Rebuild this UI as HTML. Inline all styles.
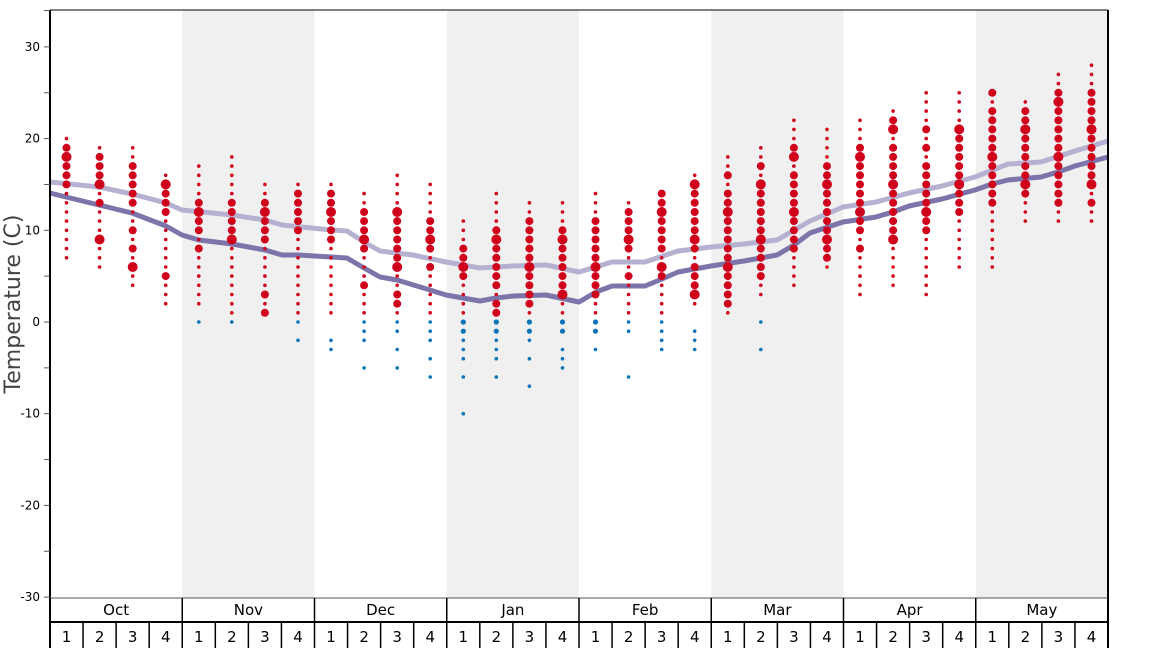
<!DOCTYPE html>
<html><head><meta charset="utf-8"><style>
body{margin:0;background:#fff;}
svg{display:block;font-family:"DejaVu Sans","Liberation Sans",sans-serif;}
</style></head><body>
<svg id="s" width="1168" height="648" viewBox="0 0 1168 648" xmlns="http://www.w3.org/2000/svg"></svg>
<script>
var s=document.getElementById('s'),h='';
var X0=50,X1=1108,MW=(X1-X0)/8,WW=MW/4;
function Y(t){return 322-t*9.17;}
for(var m=1;m<8;m+=2)h+='<rect x="'+(X0+m*MW)+'" y="10" width="'+MW+'" height="588" fill="#f0f0f0"/>';
function line(pts,c){var d='';for(var i=0;i<pts.length;i+=2)d+=(i?'L':'M')+pts[i]+' '+pts[i+1];return '<path d="'+d+'" fill="none" stroke="'+c+'" stroke-width="5" stroke-linejoin="round"/>';}
h+=line([50,182,99,187,132,194,166,203,182,210,232,215,265,220,282,225,331,230,347,231,364,242,380,251,413,255,446,262,480,268,513,266,546,265,579,272,612,262,645,262,678,251,711,247,744,244,777,240,810,221,843,207,876,202,909,193,942,186,975,177,1008,164,1041,162,1075,151,1108,141],'#b6b1d0');
h+=line([50,193,66,197,99,205,132,213,166,226,182,235,199,240,232,244,265,250,282,255,298,255,331,257,347,258,364,268,380,277,397,280,430,290,446,295,463,298,480,301,496,298,513,296,546,295,579,302,596,292,612,286,645,286,662,279,678,272,711,266,744,261,777,255,794,245,810,233,843,222,876,217,893,212,909,206,942,199,975,190,992,184,1008,180,1041,177,1058,172,1075,166,1108,157],'#7d74aa');
var W=[[20,7,[19,18,17,16,15],[]],[19,6,[18,17,16,15,13,9],[]],[19,4,[17,16,15,14,13,10,8,6],[]],[16,2,[15,14,13,12,5],[]],
[17,2,[13,12,11,10,8],[0]],[18,1,[13,12,11,10,9],[0]],[15,1,[13,12,11,10,9,3,1],[]],[15,1,[14,13,12,11,10],[0,-2]],
[15,1,[14,13,12,11,10,9],[-2,-3]],[14,1,[12,11,10,9,8,4],[0,-1,-2,-5]],[16,1,[12,11,10,9,8,7,6,3,2],[0,-1,-3,-5]],[15,1,[11,10,9,8,6],[0,-1,-2,-4,-6]],
[11,1,[8,7,6,5],[0,-1,-2,-3,-4,-6,-10]],[14,1,[10,9,8,7,6,5,4,2,1],[0,-1,-2,-3,-4,-6]],[13,1,[11,10,9,8,7,6,5,4,3,2],[0,-1,-2,-4,-7]],[13,1,[10,9,8,7,6,5,4,3],[0,-1,-3,-4,-5]],
[14,1,[11,10,9,8,7,6,5,4,3],[0,-1,-3]],[13,1,[12,11,10,9,8,5],[0,-1,-6]],[14,1,[14,13,12,11,10,9,8,6,5],[0,-1,-2,-3]],[16,2,[15,14,13,12,11,10,9,8,6,5,4,3],[-1,-2,-3]],
[18,1,[16,14,13,12,11,10,9,8,7,6,5,4,3,2],[]],[19,3,[17,15,14,13,12,11,10,9,8,7,6,5],[0,-3]],[22,4,[19,18,16,15,14,13,12,11,10,9,8],[]],[21,6,[17,16,15,14,13,12,11,10,9,8,7],[]],
[22,3,[19,18,17,16,15,14,13,12,11,10,8],[]],[23,4,[22,21,19,18,17,16,15,14,13,12,11,10,9],[]],[25,3,[21,19,17,16,15,14,13,12,11,10],[]],[25,6,[21,20,19,18,17,16,15,14,13,12],[]],
[25,6,[25,23,22,21,20,19,18,17,16,15,14,13],[]],[24,11,[23,22,21,20,19,18,17,16,15,14],[]],[27,11,[25,24,23,22,21,20,19,18,17,16,15,14,13],[]],[28,11,[25,24,23,22,21,20,19,18,17,16,15,13],[]]];
for(var i=0;i<32;i++){var w=W[i],cx=(X0+WW*(i+.5)).toFixed(1);
 for(var t=w[1];t<=w[0];t++){var big=w[2].indexOf(t)>=0;var r=big?(((t*7+i*3)%6==0)?5:4):1.8;
  h+='<circle cx="'+cx+'" cy="'+Y(t).toFixed(1)+'" r="'+r+'" fill="#d0021b"/>';}
 w[3].forEach(function(t,k){h+='<circle cx="'+cx+'" cy="'+Y(t).toFixed(1)+'" r="'+(k<2&&i>11&&i<17?2.6:1.8)+'" fill="#0a74b8"/>';});
}
h+='<line x1="50" y1="10" x2="50" y2="648" stroke="#000" stroke-width="2"/>';
h+='<line x1="1108" y1="10" x2="1108" y2="648" stroke="#000" stroke-width="2"/>';
h+='<line x1="50" y1="10" x2="1108" y2="10" stroke="#000" stroke-width="1"/>';
for(var t=-30;t<=30;t+=5){var y=Y(t);h+='<line x1="44" y1="'+y+'" x2="50" y2="'+y+'" stroke="#555" stroke-width="1"/>';
 if(t%10==0)h+='<text x="40" y="'+(y+4)+'" font-size="12" text-anchor="end" fill="#000">'+t+'</text>';}
h+='<line x1="44" y1="10.5" x2="50" y2="10.5" stroke="#555" stroke-width="1"/>';
h+='<text transform="translate(20,304) rotate(-90)" font-size="22" text-anchor="middle" fill="#444">Temperature (C)</text>';
h+='<line x1="50" y1="598" x2="1108" y2="598" stroke="#555" stroke-width="1"/>';
h+='<line x1="50" y1="622" x2="1108" y2="622" stroke="#000" stroke-width="2"/>';
var ms=['Oct','Nov','Dec','Jan','Feb','Mar','Apr','May'];
for(var m=0;m<8;m++){var x=X0+m*MW;h+='<line x1="'+x+'" y1="598" x2="'+x+'" y2="648" stroke="#000" stroke-width="1.5"/>';
 h+='<text x="'+(x+MW/2)+'" y="615" font-size="15" text-anchor="middle">'+ms[m]+'</text>';
 for(var k=0;k<4;k++){var wx=x+k*WW;if(k)h+='<line x1="'+wx+'" y1="622" x2="'+wx+'" y2="648" stroke="#000" stroke-width="1.5"/>';
  h+='<text x="'+(wx+WW/2)+'" y="642" font-size="15" text-anchor="middle">'+(k+1)+'</text>';}}
s.innerHTML=h;
</script>
</body></html>
